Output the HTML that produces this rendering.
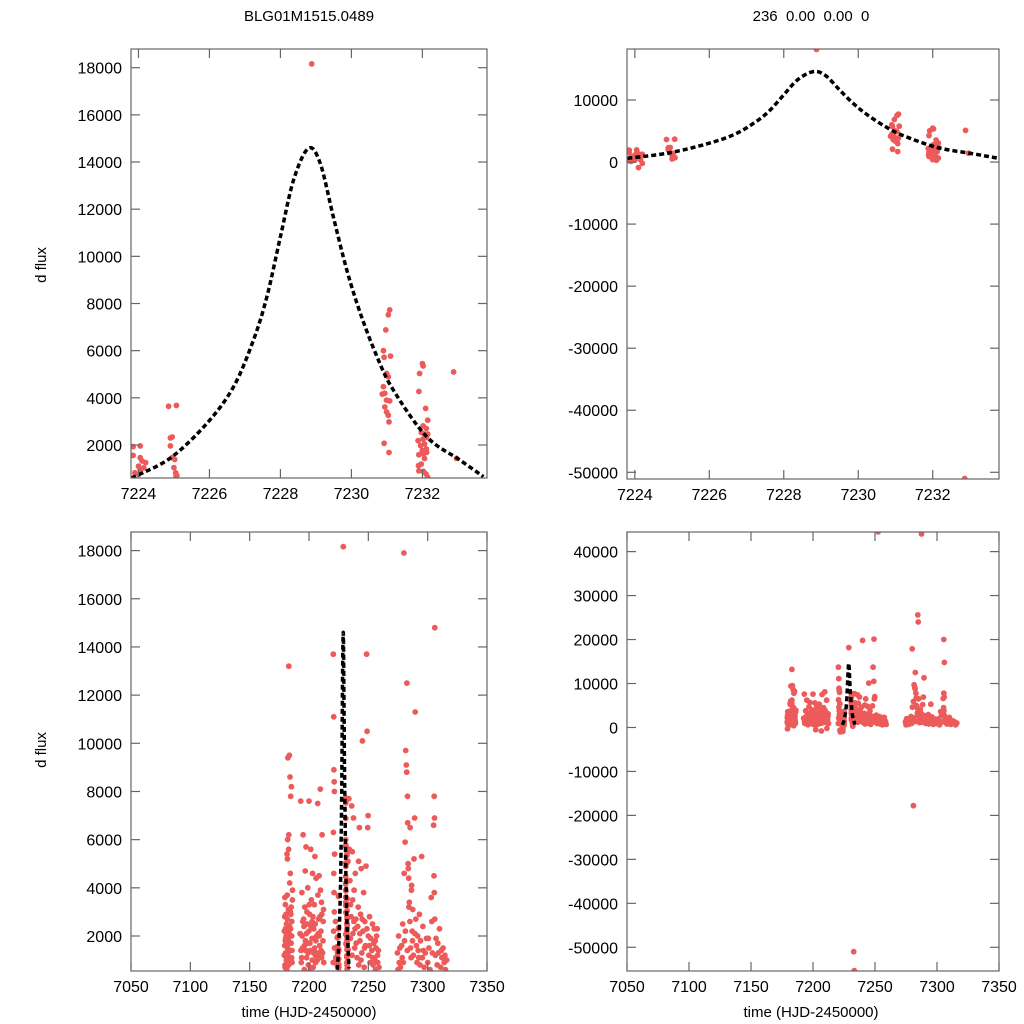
<!DOCTYPE html>
<html><head><meta charset="utf-8"><style>
html,body{margin:0;padding:0;background:#fff;width:1024px;height:1024px;overflow:hidden;}
svg{display:block;font-family:"Liberation Sans",Arial,sans-serif;}
</style></head><body>
<svg id="chart" width="1024" height="1024" viewBox="0 0 1024 1024">
<text x="309" y="21" text-anchor="middle" font-size="15">BLG01M1515.0489</text>
<text x="811" y="21" text-anchor="middle" font-size="15" xml:space="preserve">236  0.00  0.00  0</text>
<text transform="translate(46,265) rotate(-90)" text-anchor="middle" font-size="15">d flux</text>
<text transform="translate(46,750) rotate(-90)" text-anchor="middle" font-size="15">d flux</text>
<text x="309" y="1017" text-anchor="middle" font-size="15">time (HJD-2450000)</text>
<text x="811" y="1017" text-anchor="middle" font-size="15">time (HJD-2450000)</text>
</svg>
<script>
// model curve samples (time, flux)
const modelTimes = [7223.8,7224.89,7225.93,7226.68,7227.24,7227.62,7228.0,7228.37,7228.79,7229.12,7229.49,7229.87,7230.25,7230.72,7231.18,7232.12,7233.06,7233.72];
const modelFlux  = [600,1436,2920,4470,6453,8290,10830,13240,14580,13950,11680,9420,7590,5745,4330,2350,1360,656];

// observations near the peak [time, flux]
const peakObs = [
[7223.85,1930],[7224.05,1960],[7223.85,1560],[7224.05,1460],[7224.1,1320],[7224.2,1250],[7224.0,1100],[7223.9,820],[7224.05,960],[7224.0,750],[7224.15,1030],
[7224.1,-900],[7224.0,300],[7223.9,100],[7224.15,400],[7223.85,200],[7224.2,-200],
[7224.85,3640],[7225.07,3680],[7224.9,2300],[7224.95,2340],[7224.9,1960],[7224.95,1460],[7225.02,1390],[7225.0,1040],[7225.05,820],[7225.06,680],[7225.0,500],[7225.08,700],
[7228.88,18160],
[7230.9,6000],[7231.08,7730],[7231.04,7520],[7230.97,6880],[7230.92,5720],[7231.1,5770],[7230.99,5030],[7231.04,4890],[7230.9,4470],[7230.94,4190],[7230.87,4160],[7230.99,3900],[7231.08,3870],[7230.94,3610],[7230.99,3400],[7231.04,3260],[7231.06,2980],[7230.92,2070],[7231.06,1680],
[7232.0,5450],[7232.02,5350],[7231.92,5030],[7231.9,4270],[7232.09,3550],[7232.15,3050],[7232.02,2810],[7232.11,2700],[7231.97,2530],[7232.06,2460],[7231.88,2180],[7232.02,2250],[7231.95,1970],[7232.06,2040],[7232.11,1830],[7232.0,1760],[7231.9,1590],[7232.03,1620],[7232.12,1690],[7232.06,1430],[7231.89,1120],[7231.9,900],[7232.03,880],[7232.1,770],[7232.15,630],[7231.97,1190],[7232.11,2320],[7232.15,2460],[7232.0,400],[7232.1,300],[7232.05,500],
[7232.88,5100],[7232.96,1430],[7232.86,-51000],[7233.3,-55300]
];

// full-season observations [time, flux]
const seasonObs = [
[7179.2,1200],[7179.5,2800],[7179.8,800],[7180.1,3300],[7180.4,1900],[7183.0,13200],[7181.0,2500],[7181.3,600],[7181.6,3700],[7181.9,1500],[7182.2,9400],[7182.5,2200],[7182.8,5600],[7183.1,1100],[7183.4,9500],[7183.7,4200],[7184.0,8600],[7184.3,3000],[7184.6,7800],[7184.9,1700],[7185.2,8200],[7185.5,2600],[7185.8,900],[7186.1,3900],[7179.4,-300],[7180.0,1800],[7180.6,2900],[7181.2,700],[7181.8,5200],[7182.4,1300],[7183.0,6200],[7183.6,2400],[7184.2,4600],[7184.8,1000],[7185.4,2000],[7186.0,3500],[7182.0,6000],[7183.2,2100],[7184.4,400],[7181.5,5400],
[7179.6,1600],[7180.2,2300],[7180.9,1000],[7181.7,2700],[7182.6,3100],[7183.3,1700],[7184.1,2000],[7185.0,3200],[7185.7,1400],[7179.9,700],[7182.9,800],[7184.7,2900],
[7179.3,2200],[7180.3,1300],[7181.1,1700],[7182.1,900],[7183.5,1400],[7184.5,2300],[7185.3,1100],[7179.7,3600],[7180.8,2000],[7182.7,1800],
[7192.5,2100],[7193,7600],[7193.5,900],[7194,3800],[7194.5,1500],[7195,6200],[7195.5,2700],[7196,600],[7196.5,3200],[7197,1800],[7197.5,5700],[7198,1100],[7198.5,2500],[7199,4000],[7199.5,800],[7200,7600],[7200.5,2900],[7201,1400],[7201.5,5600],[7202,3500],[7202.5,1900],[7203,4600],[7203.5,700],[7204,2300],[7204.5,3300],[7205,5300],[7205.5,1200],[7206,4400],[7206.5,2000],[7207,1000],[7207.5,3700],[7208,2700],[7208.5,4500],[7209,1600],[7209.5,8100],[7210,2200],[7210.5,3400],[7211,6200],[7211.5,1300],[7212,2600],[7212.5,900],[7193.2,1400],[7195.8,2400],[7198.2,3000],[7200.8,1700],[7203.3,2800],[7205.8,1800],[7208.2,1200],[7210.8,2900],[7201.2,600],[7204.7,1500],[7207.3,7500],[7209.7,3900],[7196.8,4700],[7199.8,2200],[7202.2,-500],[7206.8,-800],[7211.2,-200],
[7193.8,1100],[7194.8,2600],[7196.2,1600],[7197.8,2100],[7199.2,1300],[7200.2,3300],[7201.8,2400],[7202.8,1000],[7204.2,1900],[7205.2,2500],[7206.2,1300],[7207.8,2100],[7209.2,2800],[7210.2,1400],[7211.8,1800],[7212.2,3100],
[7194.2,2000],[7197.2,1400],[7199.6,1700],[7202.6,2600],[7205.6,900],[7208.6,2000],[7210.6,1100],[7203.8,1300],
[7220.5,13700],[7220.8,11100],[7221,8900],[7221.2,8400],[7221.4,8000],[7220.6,6300],[7221.6,5400],[7220.9,4600],[7221.1,3800],[7221.3,3000],[7220.7,2200],[7221.5,1500],[7220.4,900],[7221.8,-600],[7222,-1000],[7222.3,2600],[7222.6,1100],
[7233.5,7700],[7234,5600],[7234.5,4300],[7235,3300],[7235.5,2800],[7236,7400],[7236.5,5500],[7237,2100],[7237.5,6900],[7238,3900],[7238.5,1500],[7239,4600],[7239.5,2700],[7240,19800],[7240.5,1100],[7241,2400],[7241.5,3200],[7242,800],[7242.5,6500],[7243,1800],[7243.5,2900],[7244,4800],[7244.5,1300],[7245,10100],[7245.5,2200],[7246,3800],[7246.5,700],[7247,2600],[7247.5,1600],[7248,4900],[7248.5,13700],[7249,10500],[7249.2,20100],[7249.5,6500],[7249.8,7000],[7250,2000],[7250.5,1200],[7251,2800],[7251.5,900],[7252,1900],[7252.5,44500],[7253,1400],[7253.5,2500],[7254,800],[7254.5,1700],[7255,2300],[7255.5,1000],[7256,600],[7256.5,1500],[7257,2000],[7257.5,2300],[7258,900],[7258.5,1400],[7259,700],[7236.8,3500],[7238.8,2300],[7243.8,1000],[7241.8,5100],
[7234.8,1900],[7236.2,1200],[7237.8,2600],[7239.8,1700],[7242.8,2100],[7244.8,2700],[7246.8,1500],[7248.8,2300],[7250.8,1600],[7253.8,1100],[7255.8,1800],[7257.8,1200],
[7274.5,1300],[7275,600],[7275.5,2000],[7276,900],[7276.5,1500],[7277,700],[7280,17900],[7278.5,1100],[7279,2500],[7281,-17800],[7280.2,4600],[7280.5,1800],[7281,5900],[7281.5,9700],[7284.5,25600],[7282,9100],[7282.3,8800],[7282.5,12500],[7284.8,24000],[7283,7800],[7283.2,6700],[7283.5,5000],[7284,4400],[7284.5,3400],[7285,2600],[7285.5,1500],[7287.5,44000],[7286.3,3900],[7286.5,4100],[7287,2200],[7287.5,3100],[7288,1200],[7288.5,5200],[7289,6900],[7289.5,11300],[7290,2700],[7290.5,1600],[7291,900],[7291.5,2000],[7292,1400],[7293,2900],[7293.5,800],[7294,1800],[7295,5300],[7295.5,1100],[7296,2400],[7297,700],[7298,1300],[7299,1900],[7300,900],[7301,1500],[7302,600],[7303,3600],[7303.5,2600],[7306,14800],[7305.5,20000],[7305.5,7800],[7305.8,6900],[7305,6600],[7305.3,4500],[7305.6,3800],[7306,2700],[7306.5,1200],[7307,1900],[7308,800],[7309,1300],[7310,2300],[7311,700],[7312,1100],[7313,1500],[7314,900],[7315,600],[7316,1000],[7284.2,3200],[7285.2,6500],[7283.7,4800],[7287.2,1800],
[7278,1600],[7279.5,900],[7281.2,2200],[7282.8,1400],[7286,1100],[7289.2,2100],[7292.5,1100],[7296.5,1400],[7300.5,1900],[7304,1300],[7308.5,1700],[7311.5,1400],[7314.5,1200]
];

const topLeftYTicks = [2000,4000,6000,8000,10000,12000,14000,16000,18000];
const topRightYTicks = [10000,0,-10000,-20000,-30000,-40000,-50000];
const zoomXTicks = [7224,7226,7228,7230,7232];
const bottomLeftYTicks = [2000,4000,6000,8000,10000,12000,14000,16000,18000];
const bottomRightYTicks = [40000,30000,20000,10000,0,-10000,-20000,-30000,-40000,-50000];
const seasonXTicks = [7050,7100,7150,7200,7250,7300,7350];

const NS = "http://www.w3.org/2000/svg";
const svg = document.getElementById('chart');
function mk(tag, attrs, parent){ const e=document.createElementNS(NS,tag); for(const k in attrs) e.setAttribute(k,attrs[k]); (parent||svg).appendChild(e); return e; }

function smoothPath(pts){
  let d='M'+pts[0][0].toFixed(1)+','+pts[0][1].toFixed(1);
  for(let i=0;i<pts.length-1;i++){
    const p0=pts[Math.max(0,i-1)],p1=pts[i],p2=pts[i+1],p3=pts[Math.min(pts.length-1,i+2)];
    const c1x=p1[0]+(p2[0]-p0[0])/6,c1y=p1[1]+(p2[1]-p0[1])/6;
    const c2x=p2[0]-(p3[0]-p1[0])/6,c2y=p2[1]-(p3[1]-p1[1])/6;
    d+='C'+c1x.toFixed(1)+','+c1y.toFixed(1)+' '+c2x.toFixed(1)+','+c2y.toFixed(1)+' '+p2[0].toFixed(1)+','+p2[1].toFixed(1);
  }
  return d;
}

function panel(id, box, xr, yr, xTicks, yTicks, points){
  const [L,T,R,B]=box;
  const sx=v=>L+(v-xr[0])/(xr[1]-xr[0])*(R-L);
  const sy=v=>B-(v-yr[0])/(yr[1]-yr[0])*(B-T);
  const g=mk('g',{});
  
  
  const cp=mk('clipPath',{id:'clip-'+id},g);
  mk('rect',{x:L,y:T,width:R-L,height:B-T},cp);
  const data=mk('g',{'clip-path':'url(#clip-'+id+')'},g);
  
  
  points.forEach(p=>{
    if(p[0]<xr[0]-1||p[0]>xr[1]+1) return;
    const c=mk('circle',{cx:sx(p[0]).toFixed(1),cy:sy(p[1]).toFixed(1),r:2.9,fill:'#ec5a5a'},data);
    
    
  });
  const pts=modelTimes.map((t,i)=>[sx(t),sy(modelFlux[i])]);
  const ln=mk('path',{d:smoothPath(pts),fill:'none',stroke:'#000','stroke-width':3.5,'stroke-dasharray':'5,3'},data);
  
  
  const fr=mk('rect',{x:L,y:T,width:R-L,height:B-T,fill:'none',stroke:'#666','stroke-width':1.2},g);
  
  
  xTicks.forEach(v=>{
    const x=sx(v);
    mk('line',{x1:x,y1:B,x2:x,y2:B-9,stroke:'#666','stroke-width':1.2},g);
    mk('line',{x1:x,y1:T,x2:x,y2:T+9,stroke:'#666','stroke-width':1.2},g);
    const tx=mk('text',{x:x,y:B+21,'text-anchor':'middle','font-size':16},g);
    tx.textContent=v;
    
    
  });
  yTicks.forEach(v=>{
    const y=sy(v);
    mk('line',{x1:L,y1:y,x2:L+9,y2:y,stroke:'#666','stroke-width':1.2},g);
    mk('line',{x1:R,y1:y,x2:R-9,y2:y,stroke:'#666','stroke-width':1.2},g);
    const tx=mk('text',{x:L-9,y:y+6,'text-anchor':'end','font-size':16},g);
    tx.textContent=v;
    
    
  });
}
const allObs = peakObs.concat(seasonObs);
panel('top-left',[131,49,487,478],[7223.79,7233.82],[600,18793],zoomXTicks,topLeftYTicks,peakObs);
panel('top-right',[627,49,999,479],[7223.79,7233.78],[-51080,18219],zoomXTicks,topRightYTicks,peakObs);
panel('bottom-left',[131,532,487,971],[7050,7350],[547,18772],seasonXTicks,bottomLeftYTicks,allObs);
panel('bottom-right',[627,532,999,971],[7050,7350],[-55390,44460],seasonXTicks,bottomRightYTicks,allObs);
</script>
</body></html>
